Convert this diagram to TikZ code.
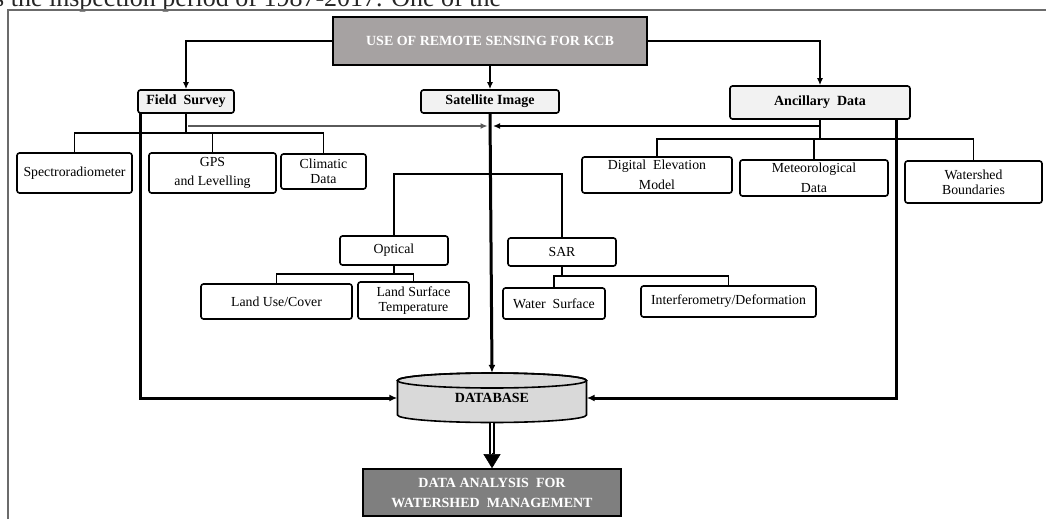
\documentclass[tikz,border=0pt]{standalone}
\usepackage{fontspec}
\setmainfont{Liberation Serif}
\usetikzlibrary{arrows.meta}

\definecolor{boxfill}{HTML}{F2F2F2}
\definecolor{topgray}{HTML}{A6A2A2}
\definecolor{dbgray}{HTML}{D9D9D9}
\definecolor{dagray}{HTML}{7F7F7F}
\definecolor{framegray}{HTML}{6B6B6B}
\definecolor{feedgray}{HTML}{5A5A5A}

\tikzset{
	leaf/.style = {draw, rounded corners=2.5pt, line width=1.6pt, align=center, inner sep=0pt,
		font=\fontsize{13.8}{15}\selectfont},
	branch/.style = {leaf, fill=boxfill, font=\fontsize{14}{15}\selectfont\bfseries},
	banner/.style = {draw, line width=1.6pt, align=center, inner sep=0pt, text=white,
		font=\fontsize{14}{20}\selectfont\bfseries},
	arr/.style = {line width=1.6pt, -{Latex[length=7pt,width=6pt]}},
	heavy/.style = {line width=3pt, -{Latex[length=8pt,width=7pt]}},
	feed/.style = {feedgray, line width=1.2pt, -{Latex[length=7pt,width=6pt]}},
	bus/.style = {line width=1.6pt}
}

\begin{document}
\begin{tikzpicture}[x=1pt, y=-1pt]
	\useasboundingbox (0,0) rectangle (1046,519);
	\clip (0,0) rectangle (1046,519);

	% text of the page above the figure
	\node[anchor=base west, inner sep=0pt, font=\fontsize{26}{30}\selectfont, text=black!85] (pagetext) at (-6,7)
		{s the inspection period of 1987-2017. One of the};

	% frame
	\draw[framegray, line width=2.5pt] (8,519) -- (8,10) -- (1046,10);

	\node[banner, fill=topgray, minimum width=314, minimum height=48] (use) at (490,41) {USE OF REMOTE SENSING FOR KCB};

	\node[branch, minimum width=96, minimum height=23] (fs) at (186,101.5) {Field\ \ Survey};
	\node[branch, minimum width=138, minimum height=23] (sat) at (490,101.5) {Satellite Image};
	\node[branch, minimum width=180, minimum height=33] (anc) at (820,102.5) {Ancillary\ \ Data};

	\node[leaf, minimum width=115, minimum height=40] (spec) at (74.5,173) {Spectroradiometer};
	\node[leaf, minimum width=127, minimum height=40] (gps) at (212.5,173) {GPS\\[4pt]and Levelling};
	\node[leaf, minimum width=85, minimum height=35] (clim) at (323.5,171.5) {Climatic\\Data};

	\node[leaf, minimum width=150, minimum height=36] (dem) at (657,175) {Digital\ \ Elevation\\[5pt]Model};
	\node[leaf, minimum width=148, minimum height=36] (met) at (814,178) {Meteorological\\[5pt]Data};
	\node[leaf, minimum width=137, minimum height=42] (ws) at (973.5,182) {Watershed\\Boundaries};

	\node[leaf, minimum width=108, minimum height=29] (opt) at (394,250.5) {Optical};
	\node[leaf, minimum width=108, minimum height=28] (sar) at (562,252) {SAR};

	\node[leaf, minimum width=151, minimum height=35] (luc) at (276.5,301.5) {Land Use/Cover};
	\node[leaf, minimum width=111, minimum height=37] (lst) at (413.5,300.5) {Land Surface\\Temperature};
	\node[leaf, minimum width=102, minimum height=31] (wsurf) at (554,303.5) {Water\ \ Surface};
	\node[leaf, minimum width=175, minimum height=31] (intf) at (728.5,301.5) {Interferometry/Deformation};

	% database cylinder
	\draw[fill=dbgray, line width=1.6pt] (397.5,380.5) -- (397.5,415)
		arc[start angle=180, end angle=360, x radius=94.5pt, y radius=7.5pt] -- (586.5,380.5)
		arc[start angle=0, end angle=180, x radius=94.5pt, y radius=7.5pt] -- cycle;
	\draw[line width=1.6pt] (492,380.5) ellipse[x radius=94.5pt, y radius=7.5pt];
	\node[minimum width=189, minimum height=50, inner sep=0pt, font=\fontsize{14}{15}\selectfont\bfseries] (db) at (492,398) {\raisebox{-3pt}{DATABASE}};

	\node[banner, fill=dagray, minimum width=258, minimum height=47] (da) at (492,492.5) {DATA ANALYSIS\ \ FOR\\WATERSHED\ \ MANAGEMENT};

	\coordinate (fsbus) at (186,133);
	\coordinate (ancbus) at (820,139);
	\coordinate (satbus) at (490,174);
	\coordinate (optbus) at (394,274);
	\coordinate (sarbus) at (562,276);
	\coordinate (fsout) at (188,126);
	\coordinate (ancout) at (820,126);
	\coordinate (sjoin) at (490,126);
	\coordinate (fsdown) at (140,113);
	\coordinate (ancdown) at (896,119);

	\draw[arr] (use.west) -| (fs.north);
	\draw[arr] (use.south) -- (sat.north);
	\draw[arr] (use.east) -| (anc.north);

	\draw[bus] (fs.south) -- (fsbus);
	\draw[bus] (fsbus) -| (spec.north);
	\draw[bus] (fsbus) -| (gps.north);
	\draw[bus] (fsbus) -| (clim.north);

	\draw[bus] (anc.south) -- (ancbus);
	\draw[bus] (ancbus) -| (dem.north);
	\draw[bus] (ancbus) -| (met.north);
	\draw[bus] (ancbus) -| (ws.north);

	\draw[feed, shorten >=2.5pt] (fsout) -- (sjoin);
	\draw[arr, shorten >=3pt] (ancout) -- (sjoin);

	\draw[bus] (satbus) -| (opt.north);
	\draw[bus] (satbus) -| (sar.north);
	\draw[bus] (opt.south) -- (optbus);
	\draw[bus] (optbus) -| (luc.north);
	\draw[bus] (optbus) -| (lst.north);
	\draw[bus] (sar.south) -- (sarbus);
	\draw[bus] (sarbus) -| (wsurf.north);
	\draw[bus] (sarbus) -| (intf.north);

	\draw[heavy] (fsdown) |- (db.west);
	\draw[heavy] (sat.south) -- (db.north);
	\draw[heavy] (ancdown) |- (db.east);

	\draw[line width=1.4pt, double, double distance=2.6pt, shorten >=14pt] (db.south) -- (da.north);
	\draw[line width=0.5pt, -{Triangle[length=14pt,width=17pt]}] (da.north) ++(0,-15) -- (da.north);
\end{tikzpicture}
\end{document}
